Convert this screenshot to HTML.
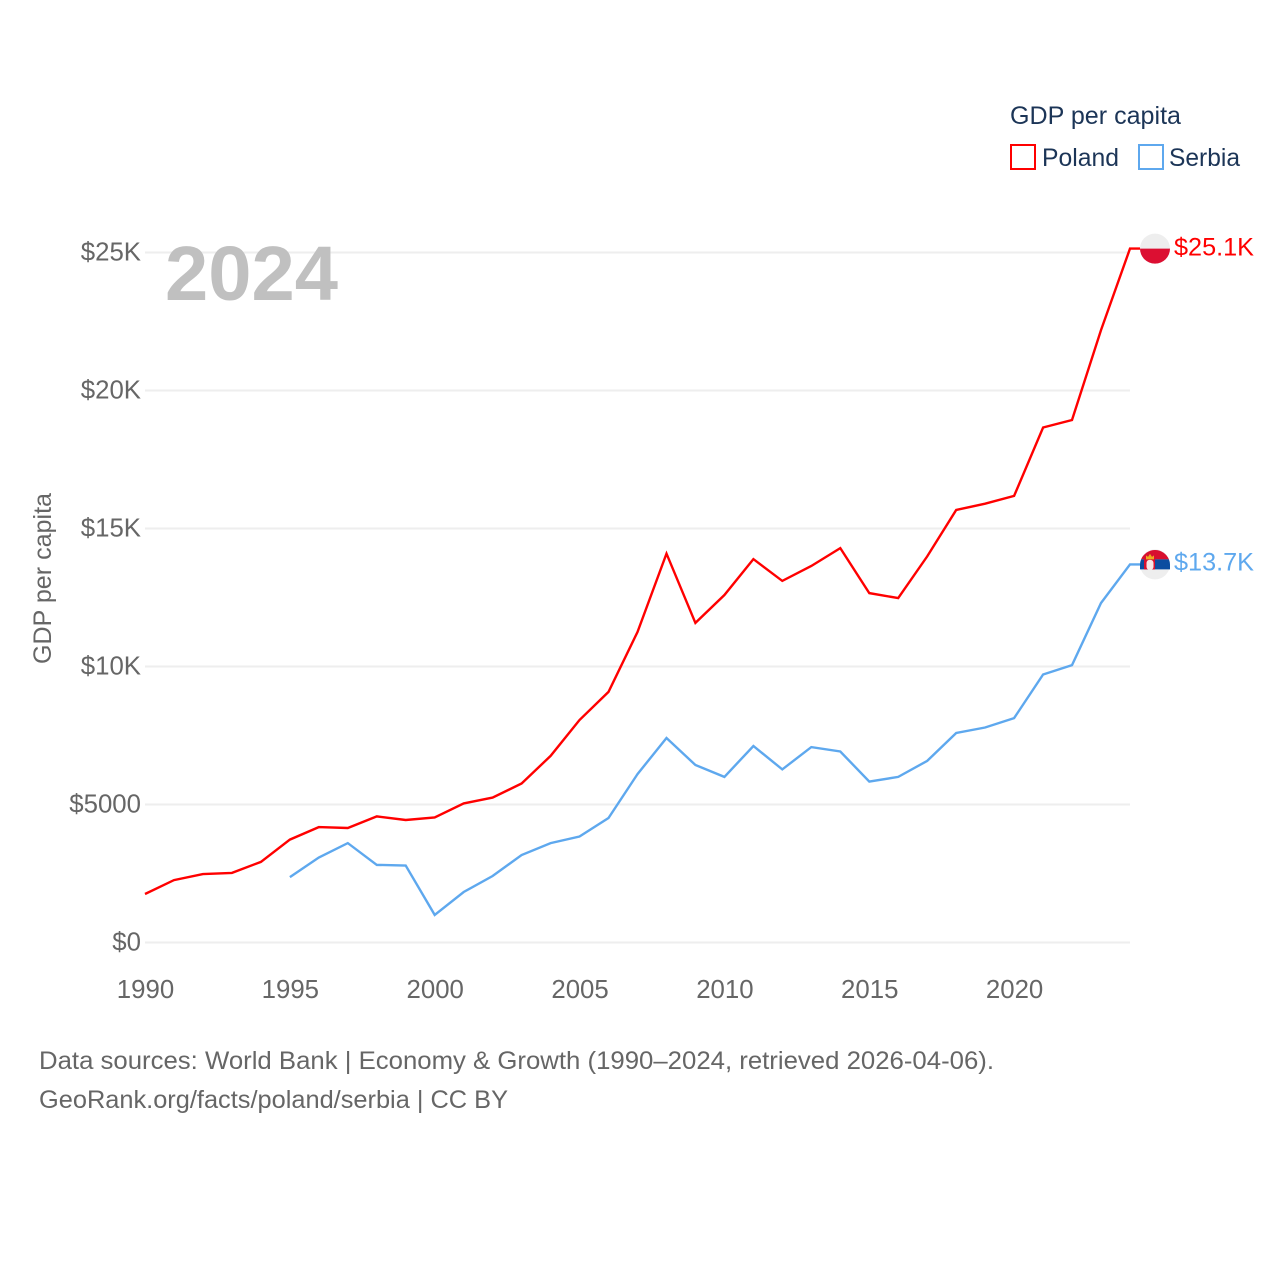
<!DOCTYPE html>
<html lang="en">
<head>
<meta charset="utf-8">
<title>GDP per capita: Poland and Serbia</title>
<style>
html,body{margin:0;padding:0;background:#fff;}
svg{display:block;font-family:"Liberation Sans",sans-serif;}
</style>
</head>
<body>
<svg id="chart" xmlns="http://www.w3.org/2000/svg" width="1280" height="1280" viewBox="0 0 1280 1280">
  <rect x="0" y="0" width="1280" height="1280" fill="#ffffff"/>
  <g id="grid"></g>
  <text x="165" y="300" font-size="77" font-weight="700" fill="#c0c0c0" textLength="173" lengthAdjust="spacingAndGlyphs">2024</text>
  <g id="yticks"></g>
  <g id="xticks"></g>
  <text transform="translate(51,664) rotate(-90)" font-size="25" fill="#666666" textLength="171" lengthAdjust="spacingAndGlyphs">GDP per capita</text>
  <g id="series"></g>

  <g id="flag-poland">
    <circle cx="1155" cy="0" r="15" fill="#eeeeee"/>
    <path d="M1140 0 H1170 A15 15 0 0 1 1140 0 Z" fill="#dc0f32"/>
  </g>
  <g id="flag-serbia">
    <circle cx="1155" cy="0" r="15" fill="#eeeeee"/>
    <path d="M1141.1 -5 A15 15 0 0 1 1168.9 -5 Z" fill="#d8102f"/>
    <path d="M1141.1 -5 H1168.9 A15 15 0 0 1 1170 0 V5 H1140 V0 A15 15 0 0 1 1141.1 -5 Z" fill="#0c4da0"/>
    <rect x="1144" y="-6" width="11" height="11" fill="#d8102f"/>
    <path d="M1146 -5 V-9 L1148 -7.5 L1150 -10.5 L1152 -7.5 L1154 -9 V-5 Z" fill="#eda91e"/>
    <rect x="1146.5" y="-4.5" width="7" height="10" rx="3" fill="#f6e6e6"/>
  </g>
  <text id="label-poland" x="1174" y="0" font-size="25" fill="#ff0000" textLength="80" lengthAdjust="spacingAndGlyphs"></text>
  <text id="label-serbia" x="1174" y="0" font-size="25" fill="#5ea8ee" textLength="80" lengthAdjust="spacingAndGlyphs"></text>

  <g>
    <text x="1010" y="124" font-size="25" fill="#1c3557" textLength="171" lengthAdjust="spacingAndGlyphs">GDP per capita</text>
    <g>
      <rect x="1011" y="145" width="24" height="24" fill="none" stroke="#ff0000" stroke-width="2"/>
      <text x="1042" y="166" font-size="25" fill="#1c3557" textLength="77" lengthAdjust="spacingAndGlyphs">Poland</text>
    </g>
    <g>
      <rect x="1139" y="145" width="24" height="24" fill="none" stroke="#5ea8ee" stroke-width="2"/>
      <text x="1169" y="166" font-size="25" fill="#1c3557" textLength="71" lengthAdjust="spacingAndGlyphs">Serbia</text>
    </g>
  </g>

  <text x="39" y="1069" font-size="25" fill="#666666" textLength="955" lengthAdjust="spacingAndGlyphs">Data sources: World Bank | Economy &amp; Growth (1990–2024, retrieved 2026-04-06).</text>
  <text x="39" y="1108" font-size="25" fill="#666666" textLength="469" lengthAdjust="spacingAndGlyphs">GeoRank.org/facts/poland/serbia | CC BY</text>
</svg>
<script>
const years = [1990,1991,1992,1993,1994,1995,1996,1997,1998,1999,2000,2001,2002,2003,2004,2005,2006,2007,2008,2009,2010,2011,2012,2013,2014,2015,2016,2017,2018,2019,2020,2021,2022,2023,2024];
const polandValues = [1.757,2.26,2.48,2.52,2.92,3.73,4.18,4.15,4.57,4.44,4.53,5.04,5.25,5.76,6.76,8.06,9.08,11.25,14.09,11.58,12.59,13.89,13.10,13.64,14.29,12.66,12.48,13.99,15.67,15.90,16.18,18.66,18.93,22.19,25.14];
const serbiaValues = [null,null,null,null,null,2.37,3.08,3.60,2.81,2.79,1.00,1.83,2.41,3.17,3.60,3.84,4.51,6.10,7.41,6.43,6.00,7.12,6.27,7.08,6.92,5.83,6.00,6.58,7.59,7.79,8.13,9.71,10.05,12.30,13.70];
const yTickValues = [0,5,10,15,20,25];
const yTickLabels = ["$0","$5000","$10K","$15K","$20K","$25K"];
const xTickValues = [1990,1995,2000,2005,2010,2015,2020];

const NS = "http://www.w3.org/2000/svg";
const xScale = function (year) { return 145 + (year - 1990) * 28.97; };
const yScale = function (value) { return 942.5 - value * 27.6; };
const formatK = function (value) { return "$" + value.toFixed(1) + "K"; };

const gridGroup = document.getElementById("grid");
const yTickGroup = document.getElementById("yticks");
const xTickGroup = document.getElementById("xticks");
const seriesGroup = document.getElementById("series");

yTickValues.forEach(function (value, i) {
  const line = document.createElementNS(NS, "line");
  
  
  line.setAttribute("x1", 145);
  line.setAttribute("x2", 1130);
  line.setAttribute("y1", yScale(value));
  line.setAttribute("y2", yScale(value));
  line.setAttribute("stroke", "#eeeeee");
  line.setAttribute("stroke-width", 2);
  gridGroup.appendChild(line);

  const label = document.createElementNS(NS, "text");
  
  
  label.setAttribute("x", 141);
  label.setAttribute("y", yScale(value) + 8);
  label.setAttribute("text-anchor", "end");
  label.setAttribute("font-size", 25.8);
  label.setAttribute("fill", "#666666");
  label.textContent = yTickLabels[i];
  yTickGroup.appendChild(label);
});

xTickValues.forEach(function (year) {
  const label = document.createElementNS(NS, "text");
  
  
  label.setAttribute("x", xScale(year) + 0.5);
  label.setAttribute("y", 998);
  label.setAttribute("text-anchor", "middle");
  label.setAttribute("font-size", 25.8);
  label.setAttribute("fill", "#666666");
  label.textContent = year;
  xTickGroup.appendChild(label);
});

function linePoints(values) {
  const points = [];
  values.forEach(function (value, i) {
    if (value !== null) {
      points.push(xScale(years[i]).toFixed(1) + "," + yScale(value).toFixed(1));
    }
  });
  const last = values[values.length - 1];
  points.push("1140," + yScale(last).toFixed(1));
  return points.join(" ");
}

const polandLine = document.createElementNS(NS, "polyline");


polandLine.setAttribute("points", linePoints(polandValues));
polandLine.setAttribute("fill", "none");
polandLine.setAttribute("stroke", "#ff0000");
polandLine.setAttribute("stroke-width", 2.4);
seriesGroup.appendChild(polandLine);

const serbiaLine = document.createElementNS(NS, "polyline");


serbiaLine.setAttribute("points", linePoints(serbiaValues));
serbiaLine.setAttribute("fill", "none");
serbiaLine.setAttribute("stroke", "#5ea8ee");
serbiaLine.setAttribute("stroke-width", 2.4);
seriesGroup.appendChild(serbiaLine);

const polandLast = polandValues[polandValues.length - 1];
const serbiaLast = serbiaValues[serbiaValues.length - 1];
document.getElementById("flag-poland").setAttribute("transform", "translate(0," + yScale(polandLast) + ")");
document.getElementById("flag-serbia").setAttribute("transform", "translate(0," + yScale(serbiaLast) + ")");
const polandLabel = document.getElementById("label-poland");
polandLabel.setAttribute("y", yScale(polandLast) + 7);
polandLabel.textContent = formatK(polandLast);
const serbiaLabel = document.getElementById("label-serbia");
serbiaLabel.setAttribute("y", yScale(serbiaLast) + 6);
serbiaLabel.textContent = formatK(serbiaLast);
</script>
</body>
</html>
